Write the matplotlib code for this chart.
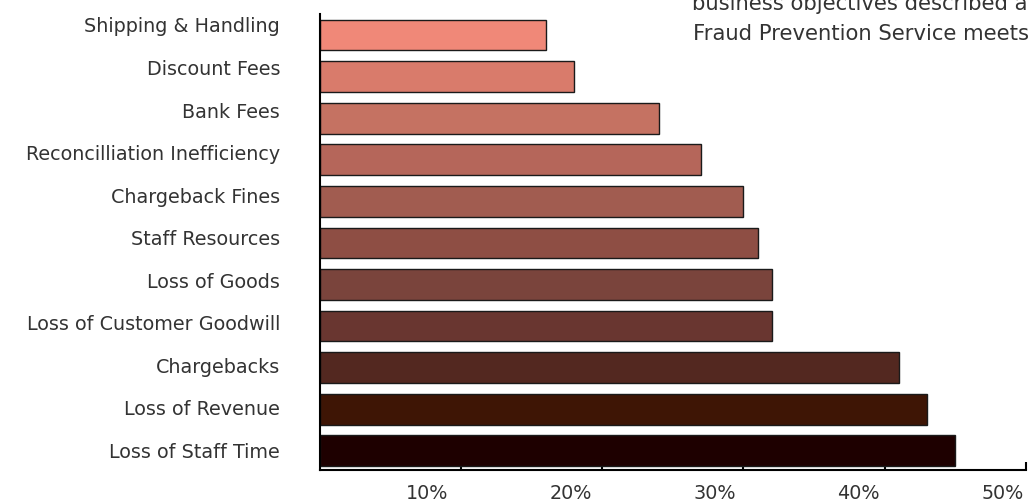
import matplotlib
matplotlib.use("Agg")
import matplotlib.pyplot as plt
import numpy as np

categories = [
    "Shipping & Handling",
    "Discount Fees",
    "Bank Fees",
    "Reconcilliation Inefficiency",
    "Chargeback Fines",
    "Staff Resources",
    "Loss of Goods",
    "Loss of Customer Goodwill",
    "Chargebacks",
    "Loss of Revenue",
    "Loss of Staff Time",
]
values = [16, 18, 24, 27, 30, 31, 32, 32, 41, 43, 45]
bar_colors = [
    "#F08878", "#D97B6B", "#C57262", "#B5665A", "#A15C50", "#8E4E44",
    "#7A443C", "#693630", "#532820", "#3E1505", "#1E0000",
]
x_ticks = [10, 20, 30, 40, 50]
x_tick_labels = ["10%", "20%", "30%", "40%", "50%"]
note_lines = ["business objectives described a", "Fraud Prevention Service meets"]

plt.rcParams["font.family"] = ["DejaVu Sans"]
TEXT = "#333333"

W, H = 1031, 503
fig = plt.figure(figsize=(W / 100, H / 100), dpi=100)
left, right, top, bottom = 319.5, 1026, 14, 470
ax = fig.add_axes([left / W, 1 - bottom / H, (right - left) / W, (bottom - top) / H])

y = np.arange(len(categories))
ax.barh(y, values, height=0.74, color=bar_colors, edgecolor="#1a1a1a",
        linewidth=1.0, zorder=2)

ax.set_xlim(0, 50)
ax.set_ylim(10.46, -0.505)
ax.set_axisbelow(True)
for s in ("top", "right"):
    ax.spines[s].set_visible(False)
for s in ("left", "bottom"):
    ax.spines[s].set_linewidth(1.5)
    ax.spines[s].set_color("black")
    ax.spines[s].set_zorder(3)
ax.set_xticks(x_ticks)
ax.tick_params(axis="x", direction="in", length=6, width=1.5, color="black",
               labelbottom=False)
ax.set_yticks([])

# category labels on their own vertical scale
ax_lab = ax.twinx()
ax_lab.set_ylim(10.458, -0.2585)
ax_lab.set_yticks(y)
ax_lab.set_yticklabels(categories)
ax_lab.yaxis.tick_left()
ax_lab.tick_params(axis="y", length=0, pad=28.4, labelsize=13.8, labelcolor=TEXT)
for s in ax_lab.spines.values():
    s.set_visible(False)

# percentage labels under the axis
ax_pct = ax.twiny()
ax_pct.set_xlim(2.53, 51.63)
ax_pct.set_xticks(x_ticks)
ax_pct.set_xticklabels(x_tick_labels)
ax_pct.xaxis.tick_bottom()
ax_pct.tick_params(axis="x", length=0, pad=10.4, labelsize=13.8, labelcolor=TEXT)
for s in ax_pct.spines.values():
    s.set_visible(False)

fig.text(692 / W, 1 - 10 / H, note_lines[0], fontsize=15.2, color=TEXT,
         ha="left", va="baseline")
fig.text(693 / W, 1 - 40 / H, note_lines[1], fontsize=15.2, color=TEXT,
         ha="left", va="baseline")

fig.savefig("out.png", dpi=100)
